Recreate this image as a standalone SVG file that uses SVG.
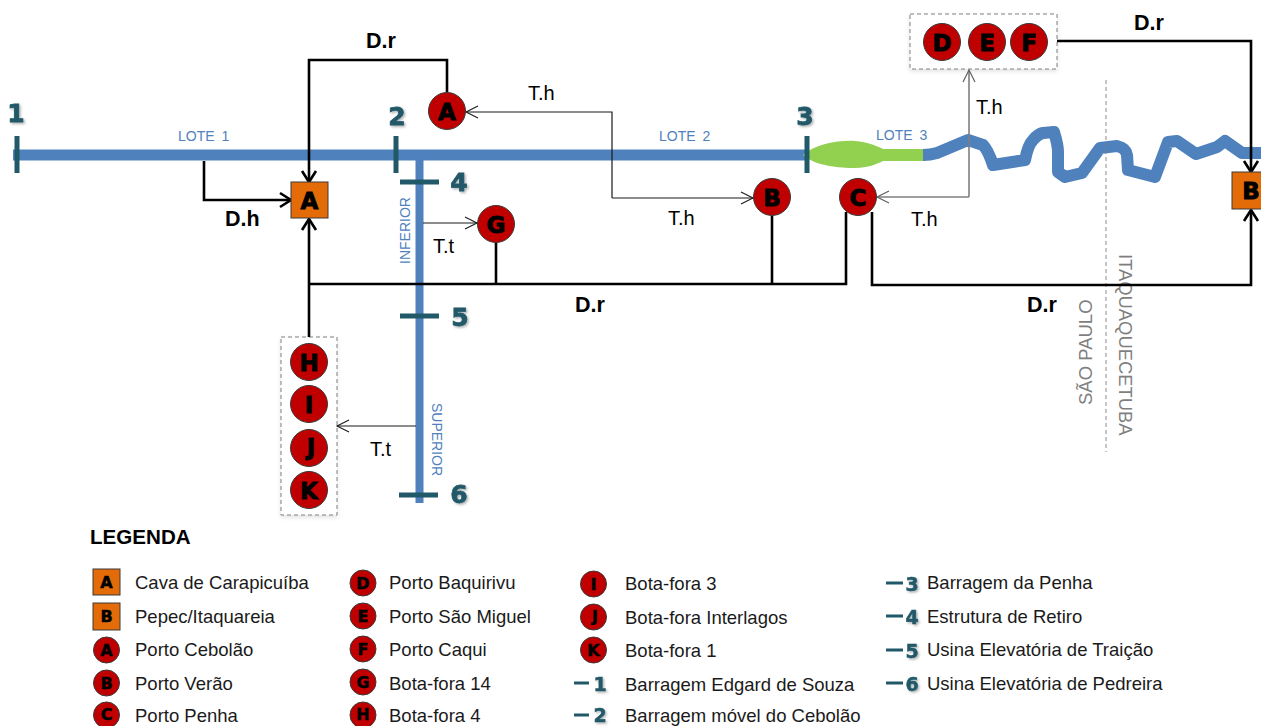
<svg xmlns="http://www.w3.org/2000/svg" width="1261" height="726" viewBox="0 0 1261 726">
<style>
text{font-family:"Liberation Sans",Arial,sans-serif}
.c{fill:#c00000;stroke:#3a3a3a;stroke-width:1}
.s{fill:#e36c09;stroke:#3a3a3a;stroke-width:1}
.l{font-family:"DejaVu Sans",Arial,sans-serif;font-weight:700;fill:#000;stroke:#000;stroke-width:.9;text-anchor:middle;font-size:23px}
.lg{font-family:"DejaVu Sans",Arial,sans-serif;font-weight:700;fill:#000;stroke:#000;stroke-width:.5;text-anchor:middle;font-size:16px}
.k{fill:none;stroke:#000;stroke-width:2.600}
.t{fill:none;stroke:#1a1a1a;stroke-width:1.200}
.g{fill:none;stroke:#7f7f7f;stroke-width:1.600}
.b{fill:none;stroke:#4f81bd}
.d{fill:none;stroke:#215968;stroke-width:5}
.n{font-family:"DejaVu Sans",Arial,sans-serif;font-weight:700;font-size:25px;fill:#215968;stroke:#215968;stroke-width:.8;text-anchor:middle;filter:url(#sh)}
.nl{font-family:"DejaVu Sans",Arial,sans-serif;font-weight:700;font-size:19px;fill:#215968;stroke:#215968;stroke-width:.5;text-anchor:middle;filter:url(#sh)}
.lo{font-size:14px;fill:#4f81bd;word-spacing:3px}
.m{font-size:20px;fill:#000}
.mb{font-size:21.500px;font-weight:700;fill:#000}
.tx{font-size:18.500px;fill:#1a1a1a}
.box{fill:#fff;stroke:#7f7f7f;stroke-width:1;stroke-dasharray:4 3;filter:url(#bs)}
</style>
<defs>
<filter id="sh" x="-30%" y="-30%" width="170%" height="170%"><feDropShadow dx="1.500" dy="1.500" stdDeviation="1" flood-color="#000" flood-opacity=".3"/></filter>
<filter id="bs" x="-10%" y="-10%" width="120%" height="120%"><feDropShadow dx="0" dy="2" stdDeviation="2" flood-color="#000" flood-opacity=".12"/></filter>
<marker id="ak" markerUnits="userSpaceOnUse" markerWidth="18" markerHeight="18" refX="14" refY="9" orient="auto"><path d="M3 2L14 9L3 16" fill="none" stroke="#000" stroke-width="2.600"/></marker>
<marker id="at" markerUnits="userSpaceOnUse" markerWidth="18" markerHeight="18" refX="14" refY="9" orient="auto"><path d="M2 3L14 9L2 15" fill="none" stroke="#1a1a1a" stroke-width="1.100"/></marker>
<marker id="ag" markerUnits="userSpaceOnUse" markerWidth="18" markerHeight="18" refX="14" refY="9" orient="auto"><path d="M2 3L14 9L2 15" fill="none" stroke="#5f5f5f" stroke-width="1.200"/></marker>
</defs>

<g id="rede">
<path class="b" stroke-width="11" d="M13 155H808"/>
<path class="b" stroke-width="8" d="M419.500 155V503"/>
<path fill="#92d050" d="M803 155C815 144 840 140 855 141C868 142 877 146 883 149H925V161H883C877 164 868 168 855 168C840 168 815 166 803 155Z"/>
<path class="b" stroke-width="12" stroke-linejoin="round" d="M923 155Q930 155 937 153L968 140L983 145Q988 150 993 165L1025 160Q1028 145 1033 140Q1038 134 1043 133L1054 132Q1058 145 1058 152V172L1065 177L1082 173L1100 148L1117 146Q1126 148 1127 155L1128 170L1155 177L1168 142L1177 141L1196 154L1217 147L1225 141L1242 153H1261"/>
<path class="d" d="M17 136V173M396 136V173M807 136V173M400 182H439M400 316H439M399 495H438"/>
<path fill="none" stroke="#7f7f7f" stroke-width=".9" stroke-dasharray="4 3" d="M1106 80V452"/>
</g>

<g id="rotulos-rede">
<text class="n" x="16" y="122">1</text>
<text class="n" x="397" y="125">2</text>
<text class="n" x="805" y="125">3</text>
<text class="n" x="459" y="191">4</text>
<text class="n" x="460" y="326">5</text>
<text class="n" x="459" y="503">6</text>
<text class="lo" x="178" y="141">LOTE 1</text>
<text class="lo" x="659" y="141">LOTE 2</text>
<text class="lo" x="876" y="140">LOTE 3</text>
<text class="lo" transform="translate(410 264) rotate(-90)">INFERIOR</text>
<text class="lo" transform="translate(432 403) rotate(90)">SUPERIOR</text>
<text transform="translate(1092 405) rotate(-90)" font-size="18.500" fill="#7f7f7f">SÃO PAULO</text>
<text transform="translate(1119 254) rotate(90)" font-size="18.400" fill="#7f7f7f">ITAQUAQUECETUBA</text>
</g>

<g id="grupo-def"><rect class="box" x="910" y="14" width="147" height="55"/></g>
<g id="grupo-hijk"><rect class="box" x="281" y="337" width="56" height="178"/></g>

<g id="conectores">
<path class="k" marker-end="url(#ak)" d="M447 92V60H309V182"/>
<path class="k" marker-end="url(#ak)" d="M204 161V200H291"/>
<path class="k" marker-end="url(#ak)" d="M309 337V219"/>
<path class="k" d="M309 284H846V212M496 243V284M772 216V284"/>
<path class="k" marker-end="url(#ak)" d="M872 212V285H1251V210"/>
<path class="k" marker-end="url(#ak)" d="M1057 41H1251V172"/>
<path class="t" marker-end="url(#at)" d="M612 198V112H466"/>
<path class="t" marker-end="url(#at)" d="M612 198H753"/>
<path class="g" marker-end="url(#ag)" d="M969 197H877"/>
<path class="g" marker-end="url(#ag)" d="M969 197V70"/>
<path class="t" marker-end="url(#at)" d="M423 223H477"/>
<path class="t" marker-end="url(#at)" d="M416 426H337"/>
<g>
<text class="mb" x="366" y="48">D.r</text>
<text class="mb" x="225" y="226">D.h</text>
<text class="mb" x="575" y="312">D.r</text>
<text class="mb" x="1027" y="312">D.r</text>
<text class="mb" x="1134" y="30">D.r</text>
<text class="m" x="528" y="100">T.h</text>
<text class="m" x="668" y="225">T.h</text>
<text class="m" x="911" y="226">T.h</text>
<text class="m" x="976" y="114">T.h</text>
<text class="m" x="433" y="253">T.t</text>
<text class="m" x="370" y="456">T.t</text>
</g>
</g>

<g id="cava-a"><rect class="s" x="291" y="182" width="37" height="36"/><text class="l" x="309.500" y="208.500">A</text></g>
<g id="pepec-b"><rect class="s" x="1232" y="172" width="40" height="37"/><text class="l" x="1251" y="199">B</text></g>
<g id="porto-a"><circle class="c" cx="447" cy="111" r="18.500"/><text class="l" x="447" y="119.500">A</text></g>
<g id="porto-b"><circle class="c" cx="772" cy="197" r="18.500"/><text class="l" x="772" y="205.500">B</text></g>
<g id="porto-c"><circle class="c" cx="858" cy="197" r="18.500"/><text class="l" x="858" y="205.500">C</text></g>
<g id="porto-d"><circle class="c" cx="942" cy="42" r="18.500"/><text class="l" x="942" y="50.500">D</text></g>
<g id="porto-e"><circle class="c" cx="987" cy="42" r="18.500"/><text class="l" x="987" y="50.500">E</text></g>
<g id="porto-f"><circle class="c" cx="1029" cy="42" r="18.500"/><text class="l" x="1029" y="50.500">F</text></g>
<g id="bota-g"><circle class="c" cx="496" cy="224" r="18.500"/><text class="l" x="496" y="232.500">G</text></g>
<g id="bota-h"><circle class="c" cx="309" cy="362" r="18.500"/><text class="l" x="309" y="370.500">H</text></g>
<g id="bota-i"><circle class="c" cx="309" cy="404" r="18.500"/><text class="l" x="309" y="412.500">I</text></g>
<g id="bota-j"><circle class="c" cx="309" cy="448" r="18.500"/><text class="l" x="311" y="454.500">J</text></g>
<g id="bota-k"><circle class="c" cx="309" cy="490" r="18.500"/><text class="l" x="309" y="498.500">K</text></g>

<g id="legenda">
<text x="90" y="544" font-size="20.600" font-weight="700" fill="#000">LEGENDA</text>
<rect class="s" x="93" y="569" width="27" height="26"/><text class="lg" x="106.500" y="588">A</text><text class="tx" x="135" y="589">Cava de Carapicuíba</text>
<rect class="s" x="93" y="603" width="27" height="27"/><text class="lg" x="106.500" y="622">B</text><text class="tx" x="135" y="623">Pepec/Itaquareia</text>
<circle class="c" cx="106.500" cy="650" r="13"/><text class="lg" x="106.500" y="656">A</text><text class="tx" x="135" y="656">Porto Cebolão</text>
<circle class="c" cx="106.500" cy="683" r="13"/><text class="lg" x="106.500" y="689">B</text><text class="tx" x="135" y="690">Porto Verão</text>
<circle class="c" cx="106.500" cy="715" r="13"/><text class="lg" x="106.500" y="720">C</text><text class="tx" x="135" y="722">Porto Penha</text>
<circle class="c" cx="363" cy="583" r="13"/><text class="lg" x="363" y="589">D</text><text class="tx" x="389" y="589">Porto Baquirivu</text>
<circle class="c" cx="363" cy="616" r="13"/><text class="lg" x="363" y="622">E</text><text class="tx" x="389" y="623">Porto São Miguel</text>
<circle class="c" cx="363" cy="649" r="13"/><text class="lg" x="363" y="655">F</text><text class="tx" x="389" y="656">Porto Caqui</text>
<circle class="c" cx="363" cy="682" r="13"/><text class="lg" x="363" y="688">G</text><text class="tx" x="389" y="690">Bota-fora 14</text>
<circle class="c" cx="363" cy="715" r="13"/><text class="lg" x="363" y="720">H</text><text class="tx" x="389" y="722">Bota-fora 4</text>
<circle class="c" cx="593.500" cy="584" r="13"/><text class="lg" x="593.500" y="590">I</text><text class="tx" x="625" y="590">Bota-fora 3</text>
<circle class="c" cx="593.500" cy="617" r="13"/><text class="lg" x="595" y="622">J</text><text class="tx" x="625" y="624">Bota-fora Interlagos</text>
<circle class="c" cx="593.500" cy="650" r="13"/><text class="lg" x="593.500" y="656">K</text><text class="tx" x="625" y="657">Bota-fora 1</text>
<path class="d" style="stroke-width:3" d="M574 683H589M574 715H589M886 583H903M886 616H903M886 650H903M886 683H903"/>
<text class="nl" x="600" y="691">1</text><text class="tx" x="625" y="691">Barragem Edgard de Souza</text>
<text class="nl" x="600" y="722">2</text><text class="tx" x="625" y="722">Barragem móvel do Cebolão</text>
<text class="nl" x="912" y="591">3</text><text class="tx" x="927" y="589">Barragem da Penha</text>
<text class="nl" x="912" y="624">4</text><text class="tx" x="927" y="623">Estrutura de Retiro</text>
<text class="nl" x="912" y="658">5</text><text class="tx" x="927" y="656">Usina Elevatória de Traição</text>
<text class="nl" x="912" y="691">6</text><text class="tx" x="927" y="690">Usina Elevatória de Pedreira</text>
</g>
</svg>
